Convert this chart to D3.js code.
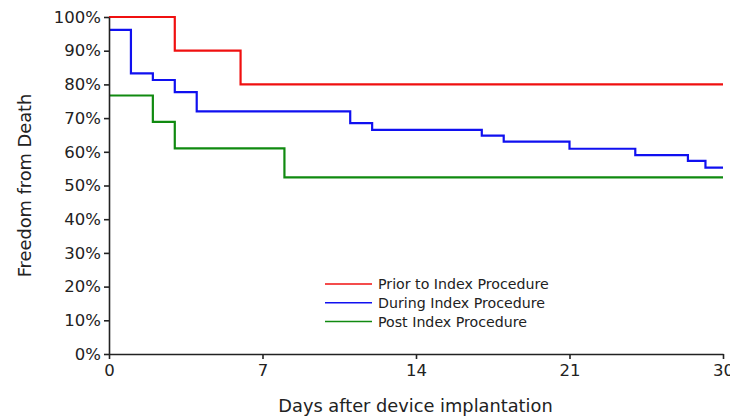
<!DOCTYPE html>
<html>
<head>
<meta charset="utf-8">
<script src="https://cdn.jsdelivr.net/npm/d3@7"></script>
<style>
  body { margin: 0; background: #fff; }
  svg { display: block; }
  .axis text { font-family: "DejaVu Sans", sans-serif; font-size: 16.5px; fill: #222; }
  .axis path, .axis line { stroke: #222; stroke-width: 1.6px; }
</style>
</head>
<body>
<svg id="chart" width="730" height="420"></svg>
<script>
// ---- data ----
const seriesNames = ["Prior to Index Procedure", "During Index Procedure", "Post Index Procedure"];
const seriesColors = ["#f01010", "#1010f0", "#108a10"];
const priorDays  = [0, 3, 6, 28];
const priorSurv  = [100, 90, 80, 80];
const duringDays = [0, 1, 2, 3, 4, 11, 12, 17, 18, 21, 24, 26.4, 27.2, 28];
const duringSurv = [96.2, 83.3, 81.3, 77.7, 72.0, 68.5, 66.5, 64.8, 63.0, 60.9, 59.0, 57.3, 55.3, 55.3];
const postDays   = [0, 2, 3, 8, 28];
const postSurv   = [76.7, 68.9, 61.0, 52.4, 52.4];
const xTickValues = [0, 7, 14, 21, 28];
const xTickLabels = ["0", "7", "14", "21", "30"];
const yTickValues = [0, 10, 20, 30, 40, 50, 60, 70, 80, 90, 100];
const xTitle = "Days after device implantation";
const yTitle = "Freedom from Death";

// ---- layout ----
const svg = d3.select("#chart");
const margin = { left: 109, right: 7, top: 17, bottom: 66 };
const W = 730, H = 420;
const x = d3.scaleLinear().domain([0, 28]).range([margin.left, W - margin.right]);
const y = d3.scaleLinear().domain([0, 100]).range([H - margin.bottom, margin.top]);

const series = [
  { days: priorDays, surv: priorSurv },
  { days: duringDays, surv: duringSurv },
  { days: postDays, surv: postSurv }
];

const line = d3.line().x(d => x(d[0])).y(d => y(d[1])).curve(d3.curveStepAfter);

series.forEach((s, i) => {
  const pts = s.days.map((d, j) => [d, s.surv[j]]);
  svg.append("path")
    .attr("d", line(pts))
    .attr("fill", "none")
    .attr("stroke", seriesColors[i])
    .attr("stroke-width", 2.2);
});

// axes
const yAxis = d3.axisLeft(y).tickValues(yTickValues).tickFormat(d => d + "%").tickSize(5).tickSizeOuter(0).tickPadding(3);
svg.append("g").attr("class", "axis").attr("transform", `translate(${margin.left},0)`).call(yAxis);

const xAxis = d3.axisBottom(x).tickValues(xTickValues).tickFormat((d, i) => xTickLabels[i]).tickSize(5).tickSizeOuter(0).tickPadding(5);
svg.append("g").attr("class", "axis").attr("transform", `translate(0,${H - margin.bottom})`).call(xAxis);

// titles
svg.append("text")
  .attr("x", 415.5)
  .attr("y", 412)
  .attr("text-anchor", "middle")
  .style("font-family", "DejaVu Sans, sans-serif")
  .style("font-size", "17.8px")
  .style("fill", "#222")
  .text(xTitle);

svg.append("text")
  .attr("transform", `translate(31,${(margin.top + H - margin.bottom) / 2}) rotate(-90)`)
  .attr("text-anchor", "middle")
  .style("font-family", "DejaVu Sans, sans-serif")
  .style("font-size", "17.8px")
  .style("fill", "#222")
  .text(yTitle);

// legend
const legend = svg.append("g").attr("transform", "translate(325,284)");
seriesNames.forEach((name, i) => {
  const g = legend.append("g").attr("transform", `translate(0,${i * 18.8})`);
  g.append("line").attr("x1", 0).attr("x2", 47).attr("y1", 0).attr("y2", 0)
    .attr("stroke", seriesColors[i]).attr("stroke-width", 1.5);
  g.append("text").attr("x", 53).attr("y", 0).attr("dy", "0.35em")
    .style("font-family", "DejaVu Sans, sans-serif")
    .style("font-size", "14.2px")
    .style("fill", "#222")
    .text(name);
});
</script>
</body>
</html>
